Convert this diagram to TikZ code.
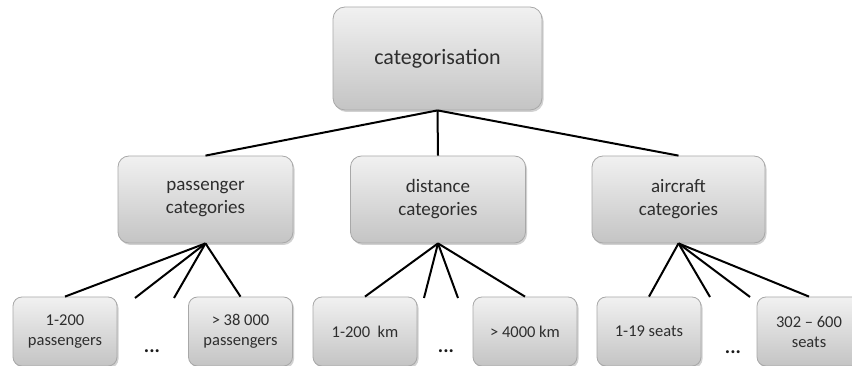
\documentclass[tikz,border=0pt]{standalone}
\usepackage{fontspec}
\setmainfont{Carlito}
\usetikzlibrary{shadows}
\definecolor{boxtop}{HTML}{F1F1F1}
\definecolor{boxbot}{HTML}{C4C4C4}
\definecolor{boxedge}{HTML}{A8A8A8}
\definecolor{labeltext}{HTML}{2E2E2E}
\tikzset{
  catbox/.style={draw=boxedge, line width=0.8pt, top color=boxtop, bottom color=boxbot,
    rounded corners=#1, drop shadow={shadow xshift=1.5pt, shadow yshift=-2pt, opacity=0.3, fill=black!60},
    align=center, inner sep=0pt, text=labeltext},
  link/.style={line width=2pt, black},
  dotsl/.style={font=\fontsize{20}{20}\selectfont\bfseries, text=black!90}
}
\begin{document}
\begin{tikzpicture}[x=1pt, y=-1pt]
  \useasboundingbox (0,0) rectangle (852,366);
  \clip (0,0) rectangle (852,366);
  % root
  \node[catbox=12pt, minimum width=209pt, minimum height=103pt, font=\fontsize{22}{26}\selectfont]
    (root) at (437.5,58.5) {categorisation};
  % second level
  \node[catbox=11pt, minimum width=175pt, minimum height=87pt, font=\fontsize{19}{23}\selectfont]
    (pass) at (205.5,199.5) {passenger\\categories};
  \node[catbox=11pt, minimum width=175pt, minimum height=87pt, font=\fontsize{19}{23}\selectfont]
    (dist) at (438,199.5) {distance\\categories};
  \node[catbox=11pt, minimum width=173pt, minimum height=87pt, font=\fontsize{19}{23}\selectfont]
    (airc) at (678.5,199.5) {aircraft\\categories};
  % leaves
  \tikzset{leaf/.style={catbox=9pt, minimum width=104pt, minimum height=69pt, font=\fontsize{16.5}{20}\selectfont}}
  \node[leaf] (p1) at (65,331.5) {1-200\\passengers};
  \node[leaf] (p2) at (240.5,331.5) {> 38 000\\passengers};
  \node[leaf] (d1) at (365,331.5) {1-200\ \ km};
  \node[leaf] (d2) at (525,331.5) {> 4000 km};
  \node[leaf] (a1) at (649,331.5) {1-19 seats};
  \node[leaf] (a2) at (809,331.5) {302 – 600\\seats};
  % ellipses between leaves
  \node[dotsl] (pdots) at (152,351) {...};
  \node[dotsl] (ddots) at (446,351) {...};
  \node[dotsl] (adots) at (733,352) {...};
  % open ends of the connectors that stop short
  \coordinate (ps1) at (135,298);
  \coordinate (ps2) at (174,298);
  \coordinate (ds1) at (424,298);
  \coordinate (ds2) at (458,298);
  \coordinate (as1) at (710,297);
  \coordinate (as2) at (750,297);
  % connectors
  \draw[link] (root.south) -- (pass.north);
  \draw[link] (root.south) -- (dist.north);
  \draw[link] (root.south) -- (airc.north);
  \draw[link] (pass.south) -- (p1.north);
  \draw[link] (pass.south) -- (ps1);
  \draw[link] (pass.south) -- (ps2);
  \draw[link] (pass.south) -- (p2.north);
  \draw[link] (dist.south) -- (d1.north);
  \draw[link] (dist.south) -- (ds1);
  \draw[link] (dist.south) -- (ds2);
  \draw[link] (dist.south) -- (d2.north);
  \draw[link] (airc.south) -- (a1.north);
  \draw[link] (airc.south) -- (as1);
  \draw[link] (airc.south) -- (as2);
  \draw[link] (airc.south) -- (a2.north);
\end{tikzpicture}
\end{document}
